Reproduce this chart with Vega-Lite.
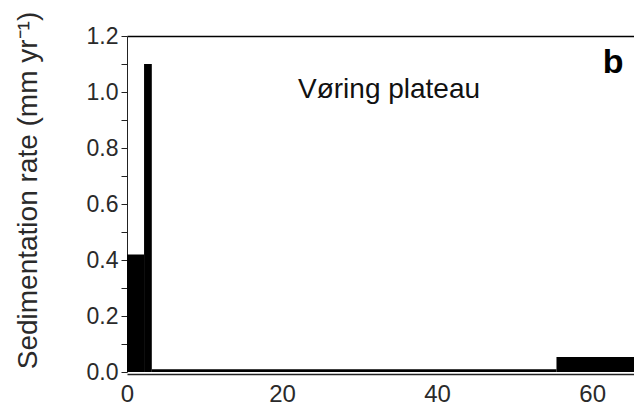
{
  "$schema": "https://vega.github.io/schema/vega-lite/v6.json",
  "width": 507,
  "height": 336,
  "autosize": {"type": "none"},
  "padding": {"left": 127, "top": 36, "right": 0, "bottom": 39},
  "background": "white",
  "config": {
    "view": {"stroke": null},
    "font": "Liberation Sans",
    "axis": {"domainColor": "#222", "tickColor": "#222", "labelColor": "#2a2a2a", "titleColor": "#2a2a2a", "grid": false}
  },
  "resolve": {"axis": {"x": "independent", "y": "independent"}},
  "layer": [
    {
      "data": {"values": [
        {"start": 0, "end": 2.2, "rate": 0.42},
        {"start": 2.2, "end": 3.2, "rate": 1.1},
        {"start": 3.2, "end": 55.4, "rate": 0.01},
        {"start": 55.4, "end": 70, "rate": 0.054}
      ]},
      "mark": {"type": "rect", "color": "black", "clip": true},
      "encoding": {
        "x": {"field": "start", "type": "quantitative",
          "scale": {"domain": [0, 65.4], "nice": false, "zero": false},
          "axis": {"orient": "bottom", "values": [0, 20, 40, 60], "ticks": false, "labelFontSize": 24, "labelPadding": 8, "offset": 2, "title": null, "domainWidth": 1.5, "labelFlush": false}},
        "x2": {"field": "end"},
        "y": {"field": "rate", "type": "quantitative",
          "scale": {"domain": [0, 1.2], "nice": false},
          "axis": {"orient": "left", "values": [0, 0.1, 0.2, 0.3, 0.4, 0.5, 0.6, 0.7, 0.8, 0.9, 1.0, 1.1, 1.2],
            "labelExpr": "round(datum.value*10) % 2 == 0 ? format(datum.value, '.1f') : ''",
            "labelFontSize": 23, "tickSize": 6, "labelPadding": 3,
            "title": "Sedimentation rate (mm yr⁻¹)", "titleFontSize": 28, "titleFontWeight": "normal",
            "titleX": -91, "titleY": 154, "titleAngle": 270, "titleAlign": "center", "titleBaseline": "alphabetic"}},
        "y2": {"datum": 0}
      }
    },
    {
      "data": {"values": [
        {"label": "Vøring plateau", "px": 33.8, "py": 0.979}
      ]},
      "mark": {"type": "text", "align": "center", "baseline": "alphabetic", "color": "#111", "fontSize": 28},
      "encoding": {
        "x": {"field": "px", "type": "quantitative",
          "axis": {"orient": "top", "labels": false, "ticks": false, "title": null, "domainColor": "black", "domainWidth": 1.5}},
        "y": {"field": "py", "type": "quantitative", "axis": null},
        "text": {"field": "label"}
      }
    },
    {
      "data": {"values": [
        {"label": "b", "px": 62.7, "py": 1.068}
      ]},
      "mark": {"type": "text", "align": "center", "baseline": "alphabetic", "color": "black", "fontSize": 34, "fontWeight": "bold"},
      "encoding": {
        "x": {"field": "px", "type": "quantitative", "axis": null},
        "y": {"field": "py", "type": "quantitative", "axis": null},
        "text": {"field": "label"}
      }
    }
  ]
}
